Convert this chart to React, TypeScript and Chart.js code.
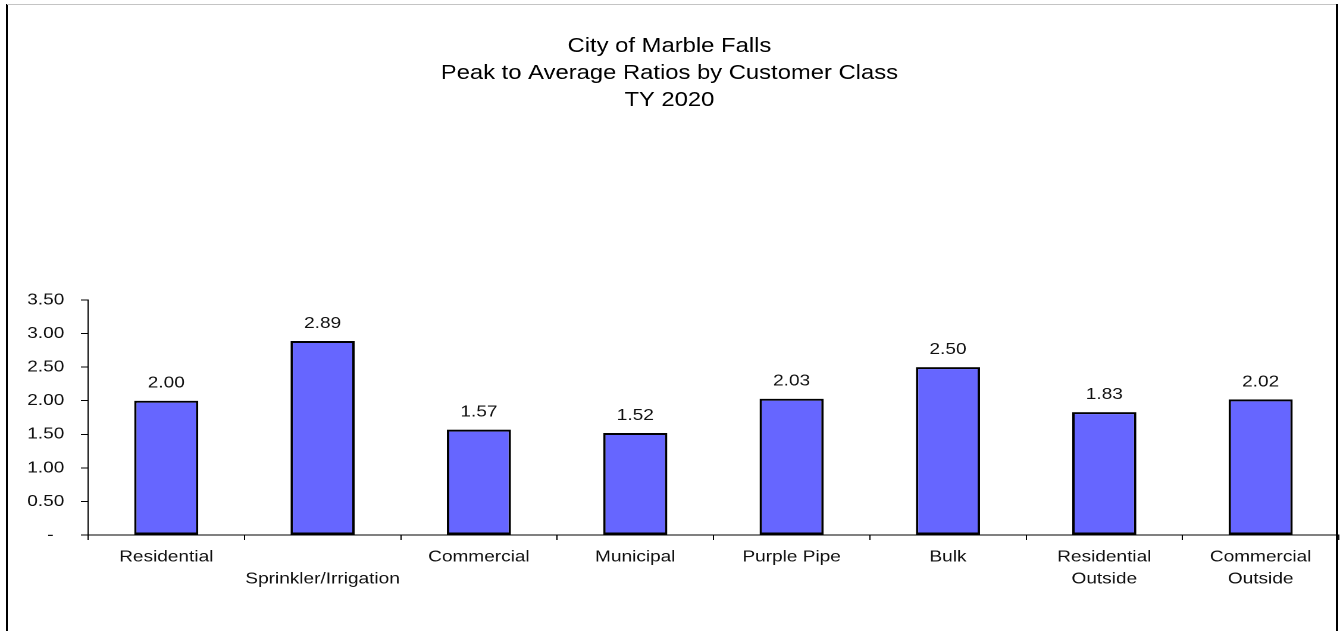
import React, { useEffect, useRef } from 'react';
import { Chart, registerables } from 'chart.js';

Chart.register(...registerables);

const titleLines = ['City of Marble Falls', 'Peak to Average Ratios by Customer Class', 'TY 2020'];
const categories: string[][] = [
  ['Residential'],
  ['', 'Sprinkler/Irrigation'],
  ['Commercial'],
  ['Municipal'],
  ['Purple Pipe'],
  ['Bulk'],
  ['Residential', 'Outside'],
  ['Commercial', 'Outside'],
];
const ratios = [2.0, 2.89, 1.57, 1.52, 2.03, 2.5, 1.83, 2.02];
const yMin = 0;
const yMax = 3.5;
const yStep = 0.5;

const PAGE_W = 1340;
const PAGE_H = 631;
const INNER_W = 1126;
const SX = PAGE_W / INNER_W;
const FONT = '"Liberation Sans", Arial, sans-serif';

const valueLabels = {
  id: 'valueLabels',
  afterDatasetsDraw(chart: any) {
    const ctx = chart.ctx;
    const meta = chart.getDatasetMeta(0);
    ctx.save();
    ctx.font = `16px ${FONT}`;
    ctx.fillStyle = '#111';
    ctx.textAlign = 'center';
    ctx.textBaseline = 'alphabetic';
    meta.data.forEach((bar: any, i: number) => {
      ctx.fillText(ratios[i].toFixed(2), bar.x, bar.y - 13);
    });
    ctx.restore();
  },
};

export default function App() {
  const ref = useRef<HTMLCanvasElement | null>(null);

  useEffect(() => {
    if (!ref.current) return;
    const chart = new Chart(ref.current, {
      type: 'bar',
      data: {
        labels: categories,
        datasets: [
          {
            data: ratios,
            backgroundColor: '#6666FF',
            borderColor: '#000000',
            borderWidth: 2,
            borderSkipped: false,
            categoryPercentage: 1,
            barPercentage: 0.41,
          },
        ],
      },
      options: {
        animation: false,
        responsive: true,
        maintainAspectRatio: false,
        devicePixelRatio: 2,
        layout: { padding: { left: 0, right: 1, top: 0, bottom: 35 } },
        plugins: {
          legend: { display: false },
          tooltip: { enabled: false },
          title: {
            display: true,
            text: titleLines,
            color: '#000',
            font: { family: FONT, size: 20, weight: 'normal', lineHeight: 1.35 },
            padding: { top: 33, bottom: 186 },
          },
        },
        scales: {
          x: {
            grid: {
              display: true,
              drawOnChartArea: false,
              drawTicks: true,
              tickLength: 5,
              tickColor: '#000',
              offset: true,
            },
            border: { display: true, color: '#000', width: 1 },
            ticks: {
              color: '#111',
              padding: 6,
              maxRotation: 0,
              autoSkip: false,
              font: { family: FONT, size: 16, lineHeight: 1.375 },
            },
          },
          y: {
            min: yMin,
            max: yMax,
            afterFit(scale: any) {
              scale.width = 74;
            },
            grid: {
              display: true,
              drawOnChartArea: false,
              drawTicks: true,
              tickLength: 6,
              tickColor: '#000',
            },
            border: { display: true, color: '#000', width: 1 },
            ticks: {
              stepSize: yStep,
              color: '#111',
              padding: 14,
              font: { family: FONT, size: 16 },
              callback: (v: any) => (Number(v) === 0 ? '-  ' : Number(v).toFixed(2)),
            },
          },
        },
      },
      plugins: [valueLabels],
    });
    return () => chart.destroy();
  }, []);

  return (
    <div
      style={{
        position: 'absolute',
        left: 0,
        top: 0,
        width: PAGE_W,
        height: PAGE_H,
        overflow: 'hidden',
        background: '#fff',
      }}
    >
      <div
        style={{
          position: 'absolute',
          left: 0,
          top: 0,
          width: INNER_W,
          height: PAGE_H,
          transform: `scaleX(${SX})`,
          transformOrigin: '0 0',
        }}
      >
        <canvas ref={ref} />
      </div>
      <div style={{ position: 'absolute', left: 6, top: 4, width: 2, height: PAGE_H - 4, background: '#000' }} />
      <div style={{ position: 'absolute', left: 7, top: 4, width: 1330, height: 1, background: '#c4c4c4' }} />
      <div style={{ position: 'absolute', left: 1336, top: 4, width: 2, height: PAGE_H - 4, background: '#000' }} />
    </div>
  );
}
